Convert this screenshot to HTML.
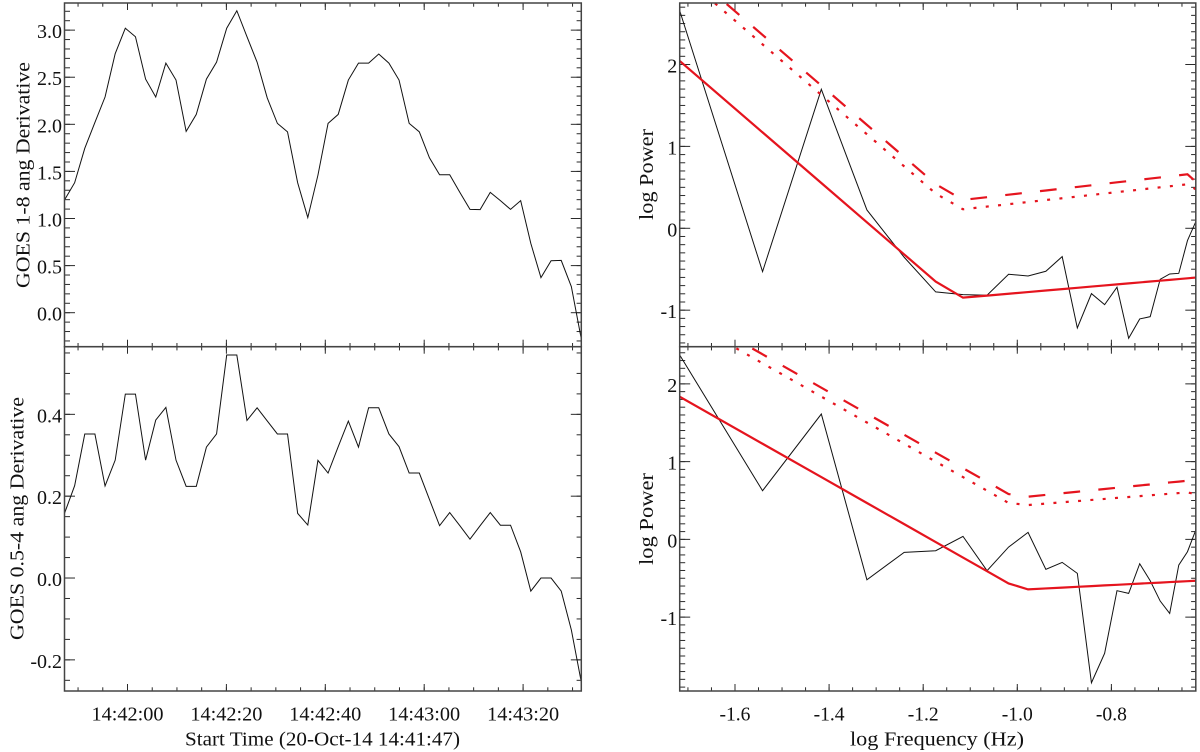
<!DOCTYPE html>
<html lang="en">
<head>
<meta charset="utf-8">
<title>GOES derivative and power spectra</title>
<style>
html,body{margin:0;padding:0;background:#fff;width:1200px;height:752px;overflow:hidden}
svg{display:block}
text{font-family:"Liberation Serif",serif;font-size:20px;fill:#111}
</style>
</head>
<body>
<svg id="chart" width="1200" height="752" viewBox="0 0 1200 752" xmlns="http://www.w3.org/2000/svg">
<rect width="1200" height="752" fill="#fff"/>
<text transform="translate(29.5,288) rotate(-90)" textLength="226" lengthAdjust="spacingAndGlyphs">GOES 1-8 ang Derivative</text>
<text transform="translate(23.5,640) rotate(-90)" textLength="243" lengthAdjust="spacingAndGlyphs">GOES 0.5-4 ang Derivative</text>
<text x="185" y="745.5" textLength="275" lengthAdjust="spacingAndGlyphs">Start Time (20-Oct-14 14:41:47)</text>
<text transform="translate(653,220) rotate(-90)" textLength="91" lengthAdjust="spacingAndGlyphs">log Power</text>
<text transform="translate(653,565) rotate(-90)" textLength="92" lengthAdjust="spacingAndGlyphs">log Power</text>
<text x="850" y="745.5" textLength="174" lengthAdjust="spacingAndGlyphs">log Frequency (Hz)</text>
</svg>
<script>
// Time series: seconds after 14:41:47
var times = [0.26,2.31,4.36,6.41,8.46,10.51,12.56,14.61,16.66,18.71,20.76,22.81,24.86,26.91,28.96,31.01,33.06,35.11,37.16,39.21,41.26,43.31,45.36,47.41,49.46,51.51,53.56,55.61,57.66,59.71,61.76,63.81,65.86,67.91,69.96,72.01,74.06,76.11,78.16,80.21,82.26,84.31,86.36,88.41,90.46,92.51,94.56,96.61,98.66,100.71,102.76,104.81];
var goesLong = [1.196,1.38,1.745,2.02,2.29,2.75,3.02,2.93,2.48,2.29,2.65,2.47,1.925,2.105,2.48,2.66,3.02,3.206,2.93,2.66,2.28,2.01,1.92,1.38,1.01,1.46,2.01,2.105,2.47,2.65,2.65,2.746,2.65,2.47,2.01,1.92,1.645,1.465,1.465,1.277,1.097,1.094,1.277,1.19,1.097,1.19,0.736,0.372,0.552,0.555,0.276,-0.29];
var goesShort = [0.158,0.2256,0.352,0.352,0.225,0.288,0.4495,0.4495,0.288,0.386,0.417,0.288,0.224,0.224,0.32,0.352,0.545,0.545,0.385,0.416,0.384,0.352,0.352,0.158,0.1295,0.2875,0.2565,0.321,0.3835,0.32,0.416,0.416,0.352,0.321,0.2565,0.2565,0.192,0.128,0.16,0.128,0.095,0.128,0.16,0.129,0.129,0.064,-0.032,0,0,-0.032,-0.127,-0.257];

// Power spectra: log frequency grid
var logFreq = [-1.7175,-1.5414,-1.4165,-1.3196,-1.2404,-1.1734,-1.1154,-1.0643,-1.0185,-0.9771,-0.9393,-0.9046,-0.8724,-0.8424,-0.8144,-0.7881,-0.7633,-0.7398,-0.7175,-0.6963,-0.6761,-0.6568,-0.6383,-0.6206];
var powerLong = [2.658,-0.529,1.697,0.224,-0.354,-0.777,-0.81,-0.818,-0.562,-0.582,-0.525,-0.346,-1.217,-0.798,-0.932,-0.72,-1.343,-1.107,-1.079,-0.623,-0.558,-0.55,-0.15,0.081];
var fitLong = [2.043,1.171,0.553,0.073,-0.319,-0.651,-0.847,-0.822,-0.799,-0.779,-0.76,-0.743,-0.727,-0.712,-0.698,-0.685,-0.673,-0.661,-0.65,-0.64,-0.63,-0.62,-0.611,-0.602];
var conf99Long = [3.233,2.361,1.743,1.263,0.871,0.539,0.346,0.38,0.41,0.437,0.4615,0.484,0.505,0.525,0.5435,0.561,0.577,0.592,0.607,0.621,0.634,0.647,0.659,0.57];
var conf95Long = [3.118,2.246,1.628,1.148,0.756,0.424,0.232,0.265,0.294,0.3205,0.345,0.367,0.3875,0.407,0.425,0.4415,0.457,0.472,0.487,0.5,0.513,0.5255,0.537,0.476];
var powerShort = [2.371,0.626,1.612,-0.519,-0.167,-0.146,0.0386,-0.403,-0.099,0.09,-0.386,-0.296,-0.437,-1.844,-1.466,-0.66,-0.695,-0.313,-0.532,-0.793,-0.952,-0.33,-0.159,0.12];
var fitShort = [1.835,1.23,0.801,0.468,0.196,-0.035,-0.234,-0.409,-0.567,-0.643,-0.631,-0.6205,-0.61,-0.601,-0.592,-0.584,-0.5765,-0.569,-0.562,-0.556,-0.549,-0.543,-0.538,-0.532];
var conf99Short = [2.985,2.38,1.951,1.618,1.346,1.115,0.916,0.741,0.583,0.549,0.572,0.593,0.6125,0.631,0.648,0.664,0.679,0.693,0.7065,0.719,0.732,0.743,0.7545,0.67];
var conf95Short = [2.87,2.265,1.836,1.503,1.231,1.0,0.801,0.626,0.468,0.4416,0.46,0.477,0.4925,0.507,0.5205,0.5335,0.545,0.5565,0.567,0.577,0.5865,0.596,0.605,0.58];

// Ticks
var timeTickValues = [13,33,53,73,93];
var timeTickLabels = ["14:42:00","14:42:20","14:42:40","14:43:00","14:43:20"];
var freqTickValues = [-1.6,-1.4,-1.2,-1.0,-0.8];
var freqTickLabels = ["-1.6","-1.4","-1.2","-1.0","-0.8"];
var longTickValues = [3,2.5,2,1.5,1,0.5,0];
var longTickLabels = ["3.0","2.5","2.0","1.5","1.0","0.5","0.0"];
var shortTickValues = [0.4,0.2,0,-0.2];
var shortTickLabels = ["0.4","0.2","0.0","-0.2"];
var powerTickValues = [2,1,0,-1];
var powerTickLabels = ["2","1","0","-1"];

var svg = document.getElementById('chart');
var NS = 'http://www.w3.org/2000/svg';
var RED = '#e5141e';

function make(tag, parent, attrs) {
  var e = document.createElementNS(NS, tag);
  for (var k in attrs) e.setAttribute(k, attrs[k]);
  parent.appendChild(e);
  return e;
}
function linear(d0, d1, p0, p1) {
  return function (v) { return p0 + (v - d0) * (p1 - p0) / (d1 - d0); };
}
function minorValues(lo, hi, step, origin) {
  var out = [];
  var a = Math.ceil((lo - origin) / step - 1e-9), b = Math.floor((hi - origin) / step + 1e-9);
  for (var i = a; i <= b; i++) out.push(origin + i * step);
  return out;
}
function seg(g, x1, y1, x2, y2, w) {
  var l = make('line', g, {x1: x1, y1: y1, x2: x2, y2: y2, stroke: '#2a2a2a', 'stroke-width': w});
  
  
}
var clipCount = 0;
function addPanel(p) {
  var xs = linear(p.xd[0], p.xd[1], p.px[0], p.px[1]);
  var ys = linear(p.yd[0], p.yd[1], p.py[0], p.py[1]);
  var g = make('g', svg, {});
  
  

  var clipId = 'clip' + (clipCount++);
  var cp = make('clipPath', g, {id: clipId});
  make('rect', cp, {x: p.px[0], y: p.py[1], width: p.px[1] - p.px[0], height: p.py[0] - p.py[1]});

  var tg = make('g', g, {});
  
  

  p.xMinor.forEach(function (v) {
    var x = xs(v);
    seg(tg, x, p.py[0], x, p.py[0] - 3.7, 1);
    seg(tg, x, p.py[1], x, p.py[1] + 3.7, 1);
  });
  p.xTicks.forEach(function (v) {
    var x = xs(v);
    seg(tg, x, p.py[0], x, p.py[0] - 7, 1);
    seg(tg, x, p.py[1], x, p.py[1] + 7, 1);
  });
  p.yMinor.forEach(function (v) {
    var y = ys(v);
    seg(tg, p.px[0], y, p.px[0] + 5.5, y, 1);
    seg(tg, p.px[1], y, p.px[1] - 4.7, y, 1);
  });
  p.yTicks.forEach(function (v) {
    var y = ys(v);
    seg(tg, p.px[0], y, p.px[0] + 10.5, y, 1);
    seg(tg, p.px[1], y, p.px[1] - 10.5, y, 1);
  });

  p.yTicks.forEach(function (v, i) {
    var t = make('text', g, {x: p.px[0] - 2.5, y: ys(v) + 8, 'text-anchor': 'end'});
    t.textContent = p.yLabels[i];
    
    
  });
  if (p.xLabels) {
    p.xTicks.forEach(function (v, i) {
      var t = make('text', g, {x: xs(v), y: 720.5, 'text-anchor': 'middle'});
      if (p.xLabelWidth) {
        t.setAttribute('textLength', p.xLabelWidth);
        t.setAttribute('lengthAdjust', 'spacingAndGlyphs');
      }
      t.textContent = p.xLabels[i];
      
      
    });
  }

  var plot = make('g', g, {'clip-path': 'url(#' + clipId + ')'});
  
  
  p.series.forEach(function (s) {
    var d = s.y.map(function (v, i) {
      return (i ? 'L' : 'M') + xs(s.x[i]).toFixed(2) + ' ' + ys(v).toFixed(2);
    }).join('');
    var el = make('path', plot, {d: d, fill: 'none', stroke: s.color, 'stroke-width': s.width, 'stroke-linejoin': 'miter'});
    if (s.dash) {
      el.setAttribute('stroke-dasharray', s.dash);
      el.setAttribute('stroke-dashoffset', s.offset);
    }
    
    
  });

  var fr = make('rect', g, {x: p.px[0], y: p.py[1], width: p.px[1] - p.px[0], height: p.py[0] - p.py[1], fill: 'none', stroke: '#444', 'stroke-width': 1.5});
  
  
}

var timeDom = [0.26, 104.77], freqDom = [-1.7175, -0.6206];
var leftPx = [64.5, 581.3], rightPx = [679.7, 1195.8];
var topPy = [346.7, 3], botPy = [691, 346.7];
var timeMinor = minorValues(timeDom[0], timeDom[1], 5, 13);
var freqMinor = minorValues(freqDom[0], freqDom[1], 0.05, -1.6);

addPanel({
  name: 'goes-1-8-panel', xd: timeDom, yd: [-0.361, 3.288], px: leftPx, py: topPy,
  xTicks: timeTickValues, xMinor: timeMinor, yTicks: longTickValues, yLabels: longTickLabels,
  yMinor: minorValues(-0.361, 3.288, 0.1, 0),
  series: [{name: 'goes-1-8-derivative-line', x: times, y: goesLong, color: '#111', width: 1}]
});
addPanel({
  name: 'goes-0-5-4-panel', xd: timeDom, yd: [-0.2761, 0.5653], px: leftPx, py: botPy,
  xTicks: timeTickValues, xLabels: timeTickLabels, xLabelWidth: 72, xMinor: timeMinor, yTicks: shortTickValues, yLabels: shortTickLabels,
  yMinor: minorValues(-0.2761, 0.5653, 0.05, 0),
  series: [{name: 'goes-0-5-4-derivative-line', x: times, y: goesShort, color: '#111', width: 1}]
});
addPanel({
  name: 'power-spectrum-1-8-panel', xd: freqDom, yd: [-1.446, 2.751], px: rightPx, py: topPy,
  xTicks: freqTickValues, xMinor: freqMinor, yTicks: powerTickValues, yLabels: powerTickLabels,
  yMinor: minorValues(-1.446, 2.751, 0.1, 0),
  series: [
    {name: 'power-spectrum-1-8-line', x: logFreq, y: powerLong, color: '#111', width: 1},
    {name: 'power-fit-1-8-line', x: logFreq, y: fitLong, color: RED, width: 2.2},
    {name: 'confidence-dotted-1-8-line', x: logFreq, y: conf95Long, color: RED, width: 2.2, dash: '3 9.35', offset: -9.5},
    {name: 'confidence-dashed-1-8-line', x: logFreq, y: conf99Long, color: RED, width: 2.2, dash: '16.7 18.3', offset: -27}
  ]
});
addPanel({
  name: 'power-spectrum-0-5-4-panel', xd: freqDom, yd: [-1.95, 2.478], px: rightPx, py: botPy,
  xTicks: freqTickValues, xLabels: freqTickLabels, xLabelWidth: 31, xMinor: freqMinor, yTicks: powerTickValues, yLabels: powerTickLabels,
  yMinor: minorValues(-1.95, 2.478, 0.1, 0),
  series: [
    {name: 'power-spectrum-0-5-4-line', x: logFreq, y: powerShort, color: '#111', width: 1},
    {name: 'power-fit-0-5-4-line', x: logFreq, y: fitShort, color: RED, width: 2.2},
    {name: 'confidence-dotted-0-5-4-line', x: logFreq, y: conf95Short, color: RED, width: 2.2, dash: '3 9.35', offset: -3.35},
    {name: 'confidence-dashed-0-5-4-line', x: logFreq, y: conf99Short, color: RED, width: 2.2, dash: '16.7 18.3', offset: -13.5}
  ]
});
</script>
</body>
</html>
